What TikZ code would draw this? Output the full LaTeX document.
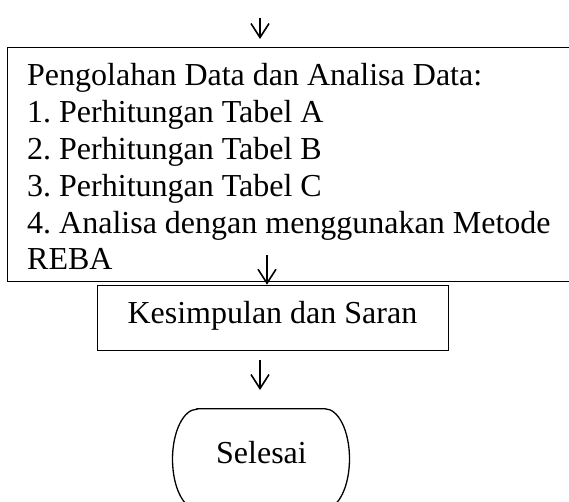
\documentclass[tikz,border=0pt]{standalone}
\usepackage{fontspec}
\setmainfont{Liberation Serif}
\usetikzlibrary{arrows.meta}
\frenchspacing
\tikzset{
  boxline/.style={draw=black, line width=1.3pt},
  flowarrow/.style={draw=black, line width=1.6pt, -{Straight Barb[length=14pt,width=18pt,line width=1.6pt]}},
  txt/.style={inner sep=0pt, font=\fontsize{32}{37}\selectfont},
}
\begin{document}
\begin{tikzpicture}[x=1pt,y=1pt]
\useasboundingbox (0,0) rectangle (569,501);
\clip (0,0) rectangle (569,501);
% top arrow
\coordinate (a0) at (260,483);
\coordinate (a1) at (260,462);
\draw[flowarrow] (a0) -- (a1);
% big process box
\node[boxline, minimum width=573pt, minimum height=234pt, inner sep=0pt, anchor=north west] (proc) at (7,454) {};
\node[txt, anchor=base west] (l1) at (27,415.5) {Pengolahan Data dan Analisa Data:};
\node[txt, anchor=base west] (l2) at (27,378.6) {1. Perhitungan Tabel A};
\node[txt, anchor=base west] (l3) at (27,341.7) {2. Perhitungan Tabel B};
\node[txt, anchor=base west] (l4) at (27,304.9) {3. Perhitungan Tabel C};
\node[txt, anchor=base west] (l5) at (27,268) {4. Analisa dengan menggunakan Metode};
\node[txt, anchor=base west] (l6) at (27,231.1) {REBA};
% conclusion box
\node[boxline, minimum width=351.3pt, minimum height=65.3pt, inner sep=0pt, anchor=north west] (ks) at (96.7,216.3) {};
\node[txt, anchor=base] (kst) at (272.4,178) {Kesimpulan dan Saran};
% arrow into conclusion box
\coordinate (b0) at (267,246);
\draw[flowarrow] (b0) -- (ks.north -| b0);
% arrow to terminal
\coordinate (c0) at (260,141);
\coordinate (c1) at (260,111);
\draw[flowarrow] (c0) -- (c1);
% terminal
\node[minimum width=176.6pt, minimum height=100pt, inner sep=0pt] (fin) at (261,42) {};
\draw[boxline] ([xshift=24.5pt]fin.north west) -- ([xshift=-24.5pt]fin.north east)
  arc[start angle=90, end angle=-90, x radius=24.5pt, y radius=50pt]
  -- ([xshift=24.5pt]fin.south west)
  arc[start angle=270, end angle=90, x radius=24.5pt, y radius=50pt] -- cycle;
\node[txt, anchor=base] (fint) at (261.5,38) {Selesai};
\end{tikzpicture}
\end{document}
